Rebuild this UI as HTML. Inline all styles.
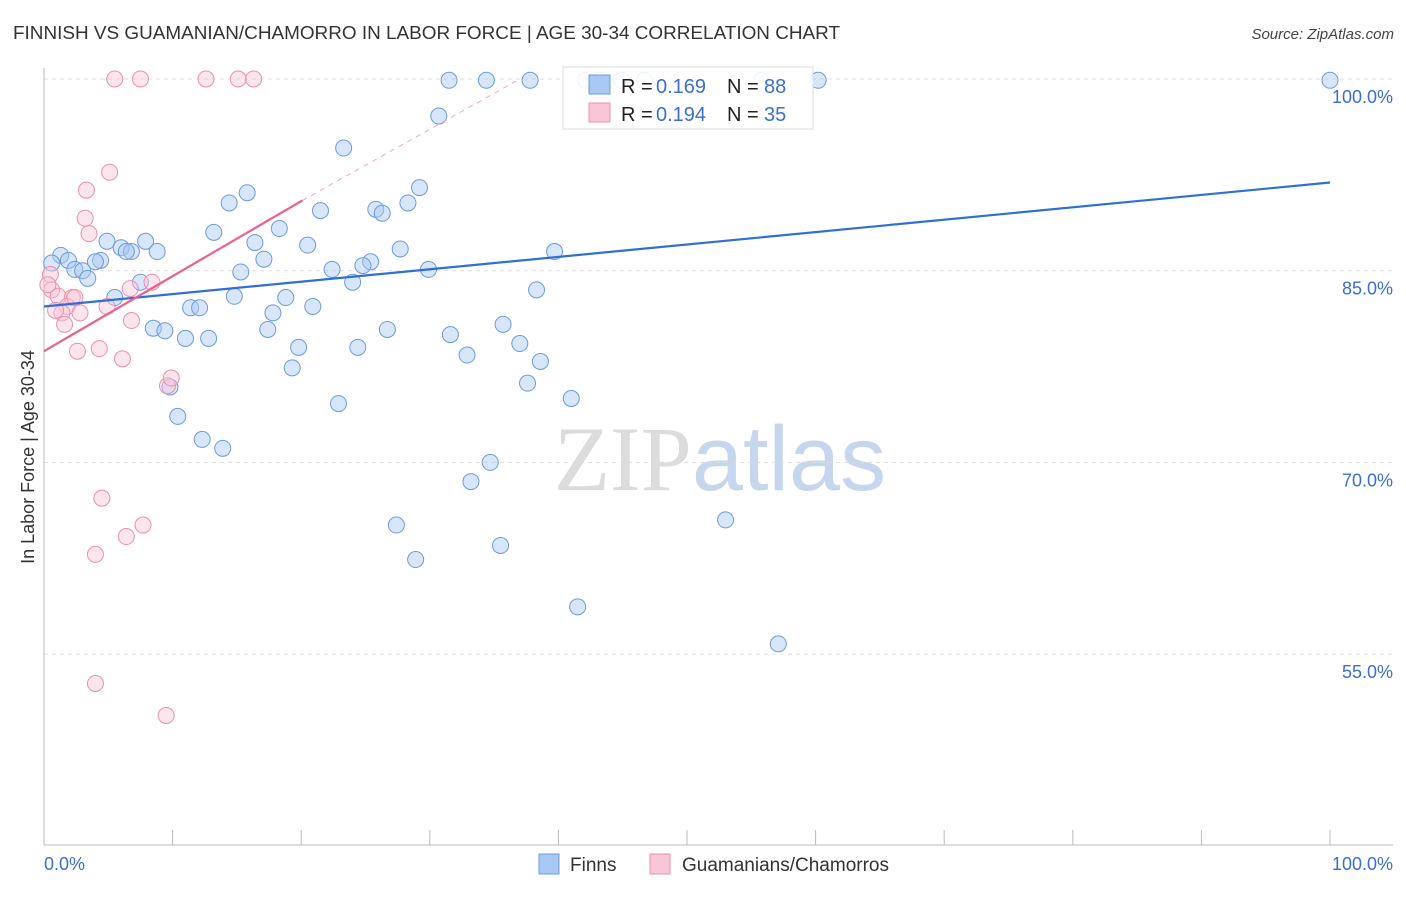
<!DOCTYPE html>
<html><head><meta charset="utf-8">
<style>
body{margin:0;background:#fff;width:1406px;height:892px;overflow:hidden;font-family:"Liberation Sans",sans-serif;}
svg text{font-family:"Liberation Sans",sans-serif;}
</style></head>
<body>
<svg id="chart" width="1406" height="892" xmlns="http://www.w3.org/2000/svg">
<text x="13" y="39" font-size="18" fill="#333" textLength="827" lengthAdjust="spacingAndGlyphs">FINNISH VS GUAMANIAN/CHAMORRO IN LABOR FORCE | AGE 30-34 CORRELATION CHART</text>
<text x="1394" y="39" font-size="15" fill="#444" font-style="italic" text-anchor="end">Source: ZipAtlas.com</text>
<text x="720" y="490" font-size="92" text-anchor="middle"><tspan fill="#dcdcdc" font-family="Liberation Serif">ZIP</tspan><tspan fill="#c5d6ee">atlas</tspan></text>
<text transform="translate(34,457) rotate(-90)" font-size="18" fill="#333" text-anchor="middle">In Labor Force | Age 30-34</text>
<g id="grid"></g><g id="axes"></g><g id="pts"></g><g id="trend"></g>
<g>
<rect x="563" y="67" width="250" height="62" fill="#fff" fill-opacity="0.9" stroke="#ddd"/>
<rect x="589" y="75" width="21" height="19" fill="#a9c8f2" stroke="#6b9be0"/>
<text x="621" y="93" font-size="20" fill="#222">R =</text>
<text x="656" y="93" font-size="20" fill="#3a6fd0">0.169</text>
<text x="727" y="93" font-size="20" fill="#222">N =</text>
<text x="764" y="93" font-size="20" fill="#3a6fd0">88</text>
<rect x="589" y="103" width="21" height="19" fill="#f8c6d6" stroke="#ec90ad"/>
<text x="621" y="121" font-size="20" fill="#222">R =</text>
<text x="656" y="121" font-size="20" fill="#3a6fd0">0.194</text>
<text x="727" y="121" font-size="20" fill="#222">N =</text>
<text x="764" y="121" font-size="20" fill="#3a6fd0">35</text>
</g>
<g>
<rect x="539" y="854" width="20" height="20" fill="#a9c8f2" stroke="#6b9be0"/>
<text x="570" y="871" font-size="19" fill="#333">Finns</text>
<rect x="650" y="854" width="20" height="20" fill="#f8c6d6" stroke="#ec90ad"/>
<text x="682" y="871" font-size="19" fill="#333">Guamanians/Chamorros</text>
</g>
</svg>
<script>
const yTicks=[100,85,70,55];
const xTickLabels=["0.0%","100.0%"];
const finnsX=[31.5,34.4,37.8,60.2,100,42.1,43.2,44.9,46.7,55.8,30.7,23.3,29.2,15.8,14.4,28.3,21.5,25.8,26.3,13.2,18.3,16.4,20.5,4.9,7.9,6.0,6.8,8.8,6.4,27.7,39.7,17.1,1.3,0.6,1.9,4.4,4.0,25.4,24.8,22.4,15.3,29.9,2.4,3.0,3.4,7.5,24.0,38.3,14.8,18.8,5.5,20.9,11.4,12.1,17.8,8.5,9.4,17.4,26.7,35.7,11.0,12.8,31.6,19.8,37.0,24.4,32.9,38.6,19.3,9.8,37.6,41.0,22.9,10.4,12.3,13.9,34.7,33.2,53.0,27.4,28.9,35.5,41.5,57.1];
const finnsY=[99.9,99.9,99.9,99.9,99.9,99.9,99.9,99.9,99.9,99.9,97.1,94.6,91.5,91.1,90.3,90.3,89.7,89.8,89.5,88.0,88.3,87.2,87.0,87.3,87.3,86.8,86.5,86.5,86.5,86.7,86.5,85.9,86.2,85.6,85.8,85.8,85.7,85.7,85.4,85.1,84.9,85.1,85.1,85.0,84.4,84.1,84.1,83.5,83.0,82.9,82.9,82.2,82.1,82.1,81.7,80.5,80.3,80.4,80.4,80.8,79.7,79.7,80.0,79.0,79.3,79.0,78.4,77.9,77.4,75.9,76.2,75.0,74.6,73.6,71.8,71.1,70.0,68.5,65.5,65.1,62.4,63.5,58.7,55.8];
const guamX=[5.5,7.5,12.6,15.1,16.3,5.1,3.3,3.2,3.5,0.5,0.6,1.1,2.2,1.8,1.4,2.8,1.6,4.9,6.8,6.7,8.4,2.6,4.3,6.1,9.6,9.9,4.5,7.7,6.4,4.0,4.0,9.5,0.3,2.4,0.9];
const guamY=[100,100,100,100,100,92.7,91.3,89.1,87.9,84.7,83.5,83.0,82.9,82.2,81.7,81.7,80.8,82.2,81.1,83.6,84.1,78.7,78.9,78.1,76.0,76.6,67.2,65.1,64.2,62.8,52.7,50.2,83.9,82.9,81.9];
const finnsTrend=[[0,82.2],[100,91.9]];
const guamTrend=[[0,78.7],[20.1,90.5]];
const guamTrendExt=[[20.1,90.5],[37,100]];
const X=v=>44+v*12.86, Y=v=>79+(100-v)*12.78;
const NS="http://www.w3.org/2000/svg";
function mk(parent,tag,attrs){const e=document.createElementNS(NS,tag);for(const k in attrs)e.setAttribute(k,attrs[k]);document.getElementById(parent).appendChild(e);return e;}
yTicks.forEach(t=>{
 const l=mk('grid','line',{x1:44,x2:1393,y1:Y(t),y2:Y(t),stroke:'#ddd','stroke-dasharray':'4,4'});
 
 
 const tx=mk('grid','text',{x:1393,y:Y(t)+24,'font-size':18,fill:'#3a6fd0','text-anchor':'end'});tx.textContent=t.toFixed(1)+'%';
 
 
});
let a=mk('axes','line',{x1:44,x2:44,y1:68,y2:845,stroke:'#bbb'});


a=mk('axes','line',{x1:44,x2:1393,y1:845,y2:845,stroke:'#bbb'});


for(let i=0;i<=10;i++){const t=mk('axes','line',{x1:X(i*10),x2:X(i*10),y1:830,y2:845,stroke:'#bbb'});
 
 }
[[0,'start',44],[1,'end',1393]].forEach(([i,anc,px])=>{const t=mk('axes','text',{x:px,y:870,'font-size':18,fill:'#3a6fd0','text-anchor':anc});t.textContent=xTickLabels[i];
 
 });
function pts(xs,ys,fill,stroke,name){xs.forEach((x,i)=>{const c=mk('pts','circle',{cx:X(x),cy:Y(ys[i]),r:8,fill:fill,'fill-opacity':0.45,stroke:stroke,'stroke-width':1});
 
 });}
pts(finnsX,finnsY,'#a9c8f2','#6b9be0','finns-point');
pts(guamX,guamY,'#f8c6d6','#ec90ad','guamanian-point');
function ln(d,stroke,w,dash,name){const l=mk('trend','line',{x1:X(d[0][0]),y1:Y(d[0][1]),x2:X(d[1][0]),y2:Y(d[1][1]),stroke:stroke,'stroke-width':w});if(dash)l.setAttribute('stroke-dasharray',dash);
 
 }
ln(finnsTrend,'#2f6fd6',2.2,null,'finns-trend-line');
ln(guamTrend,'#e8628f',2.2,null,'guamanian-trend-line');
ln(guamTrendExt,'#f0a8c0',1,'5,5','guamanian-trend-extension');
</script>
</body></html>
